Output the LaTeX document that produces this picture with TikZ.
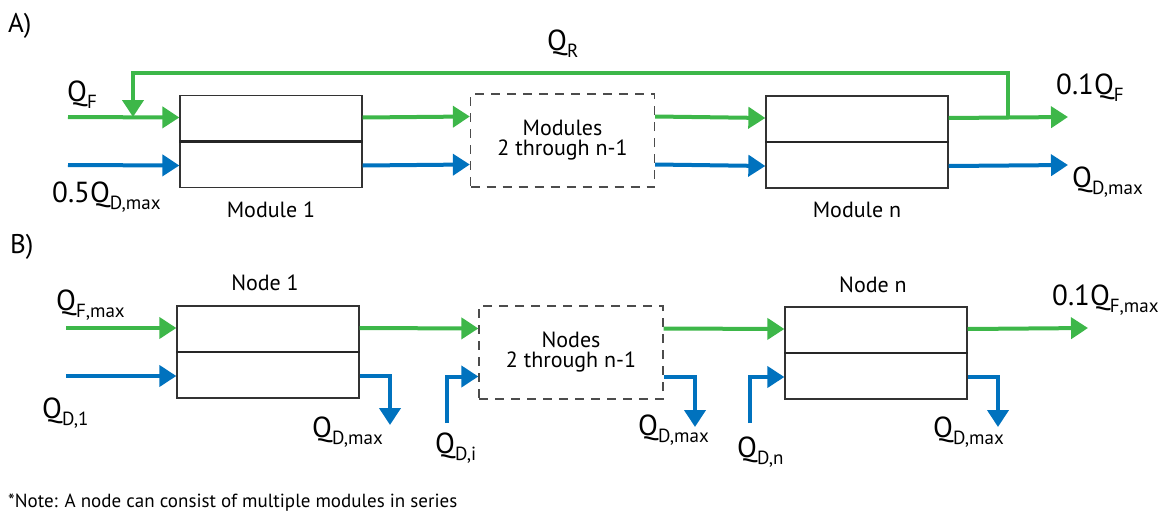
\documentclass[tikz,border=0pt]{standalone}
\usepackage{fontspec}
\setmainfont{PT Sans}
\usetikzlibrary{arrows.meta,positioning}
\definecolor{flowgreen}{RGB}{61,183,73}
\definecolor{flowblue}{RGB}{0,114,190}
\newcommand{\flowsub}[1]{\raisebox{-7pt}{\fontsize{19}{19}\selectfont #1}}
\tikzset{
  unit/.style   = {draw=black!80, line width=1.3pt, minimum width=182pt, minimum height=92pt,
                   inner sep=0pt},
  group/.style  = {draw=black!70, line width=1.3pt, dash pattern=on 9pt off 7pt,
                   minimum width=184pt, minimum height=93pt, align=center,
                   font=\fontsize{22}{23}\selectfont},
  divider/.style= {line width=2.4pt, black!85},
  gflow/.style  = {draw=flowgreen, line width=4pt, -{Triangle[length=17pt,width=21pt]}},
  bflow/.style  = {draw=flowblue, line width=4pt, -{Triangle[length=17pt,width=21pt]}},
  qlab/.style   = {font=\fontsize{29}{30}\selectfont, inner sep=0pt, anchor=base west},
  tag/.style    = {font=\fontsize{22}{24}\selectfont, inner sep=0pt},
  panel/.style  = {font=\fontsize{27}{28}\selectfont, inner sep=0pt, anchor=base west},
}
\begin{document}
\begin{tikzpicture}[x=1pt,y=-1pt]
  \useasboundingbox (0,0) rectangle (1165,517);

  % A) modules in series with recycle
  \node[panel] (pa) at (8,32) {A)};
  \node[unit] (mod1) at (271,141.5) {};
  \node[group] (dashA) at (562.5,140.5) {Modules\\[-3pt]2 through n-1};
  \node[unit] (modn) at (857,142) {};
  \draw[divider] (mod1.west) -- (mod1.east);
  \draw[divider] (modn.west) -- (modn.east);
  \node[tag] (tmod1) at (271,210) {Module 1};
  \node[tag] (tmodn) at (857,210) {Module n};

  \coordinate (inFA) at (68,117);
  \coordinate (inDA) at (68,165);
  \coordinate (outFA) at (1068,117);
  \coordinate (outDA) at (1068,165);
  \coordinate (recout) at (1008,117);
  \coordinate (recin) at (133,117);

  \draw[gflow] (inFA) -- ([yshift=24pt]mod1.west);
  \draw[bflow] (inDA) -- ([yshift=-24pt]mod1.west);
  \draw[gflow] ([yshift=24pt]mod1.east) -- ([yshift=24pt]dashA.west);
  \draw[bflow] ([yshift=-24pt]mod1.east) -- ([yshift=-24pt]dashA.west);
  \draw[gflow] ([yshift=24pt]dashA.east) -- ([yshift=24pt]modn.west);
  \draw[bflow] ([yshift=-24pt]dashA.east) -- ([yshift=-24pt]modn.west);
  \draw[gflow] ([yshift=24pt]modn.east) -- (outFA);
  \draw[bflow] ([yshift=-24pt]modn.east) -- (outDA);
  \draw[gflow] (recout) -- ++(0,-44) -| (recin);

  \node[qlab] (qf) at (67,101) {Q\flowsub{F}};
  \node[qlab] (qd05) at (52,202) {0.5Q\flowsub{D,max}};
  \node[qlab] (qr) at (547,50) {Q\flowsub{R}};
  \node[qlab] (qf01) at (1056,94) {0.1Q\flowsub{F}};
  \node[qlab] (qdA) at (1072,187) {Q\flowsub{D,max}};

  % B) nodes in series
  \node[panel] (pb) at (10,253) {B)};
  \node[unit] (node1) at (268,352) {};
  \node[group] (dashB) at (571,352.5) {Nodes\\[-3pt]2 through n-1};
  \node[unit] (noden) at (876,353) {};
  \draw[divider] (node1.west) -- (node1.east);
  \draw[divider] (noden.west) -- (noden.east);
  \node[tag] (tnode1) at (265,283) {Node 1};
  \node[tag] (tnoden) at (873,285) {Node n};

  \coordinate (inFB) at (66,328);
  \coordinate (inDB) at (66,376);
  \coordinate (outFB) at (1088,328);
  \coordinate (drain1) at (390,425);
  \coordinate (draini) at (695,427);
  \coordinate (drainn) at (998,427);
  \coordinate (feedi) at (447,423);
  \coordinate (feedn) at (750,423);

  \draw[gflow] (inFB) -- ([yshift=24pt]node1.west);
  \draw[bflow] (inDB) -- ([yshift=-24pt]node1.west);
  \draw[gflow] ([yshift=24pt]node1.east) -- ([yshift=24pt]dashB.west);
  \draw[gflow] ([yshift=24pt]dashB.east) -- ([yshift=24pt]noden.west);
  \draw[gflow] ([yshift=24pt]noden.east) -- (outFB);
  \draw[bflow] ([yshift=-24pt]node1.east) -| (drain1);
  \draw[bflow] ([yshift=-24pt]dashB.east) -| (draini);
  \draw[bflow] ([yshift=-24pt]noden.east) -| (drainn);
  \draw[bflow] (feedi) |- ([yshift=-24pt]dashB.west);
  \draw[bflow] (feedn) |- ([yshift=-24pt]noden.west);

  \node[qlab] (qfmax) at (56,310) {Q\flowsub{F,max}};
  \node[qlab] (qd1) at (42,418) {Q\flowsub{D,1}};
  \node[qlab] (qdm1) at (312,437) {Q\flowsub{D,max}};
  \node[qlab] (qdi) at (435,453) {Q\flowsub{D,i}};
  \node[qlab] (qdm2) at (638,435) {Q\flowsub{D,max}};
  \node[qlab] (qdn) at (737,457) {Q\flowsub{D,n}};
  \node[qlab] (qdm3) at (933,437) {Q\flowsub{D,max}};
  \node[qlab] (qf01max) at (1052,305) {0.1Q\flowsub{F,max}};

  \node[anchor=base west, inner sep=0pt, font=\fontsize{19}{20}\selectfont] (note) at (8,507)
    {*Note: A node can consist of multiple modules in series};
\end{tikzpicture}
\end{document}
